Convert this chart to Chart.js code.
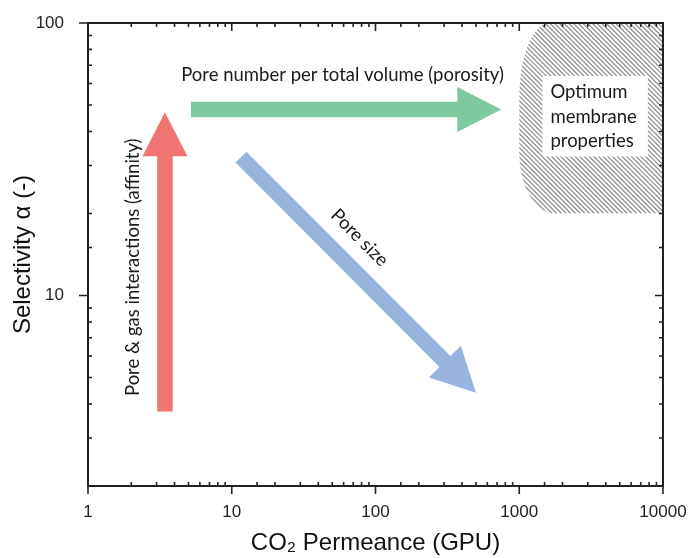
<!DOCTYPE html>
<html>
<head>
<meta charset="utf-8">
<script src="https://cdn.jsdelivr.net/npm/chart.js@4.4.1/dist/chart.umd.min.js"></script>
<style>
  html, body { margin: 0; padding: 0; background: #fff; }
</style>
</head>
<body>
<canvas id="chart" width="693" height="558"></canvas>
<script>
// log-log axes
const xRange = [1, 10000];
const yRange = [2, 100];
const xTickLabels = ['1', '10', '100', '1000', '10000'];
const yTickLabels = ['10', '100'];

// arrows, start -> tip, in data units (CO2 permeance, selectivity)
const arrowLabels = ['Pore & gas interactions (affinity)', 'Pore number per total volume (porosity)', 'Pore size'];
const arrowStartX = [3.43, 5.2, 11.6];
const arrowStartY = [3.75, 48.2, 32.2];
const arrowTipX = [3.43, 750, 500];
const arrowTipY = [47, 48.2, 4.4];

// optimum region (hatched)
const optimumX = [1000, 10000];
const optimumY = [20, 100];
const optimumText = ['Optimum', 'membrane', 'properties'];

// where the arrow captions sit (data units) and how they turn
const captions = [
  { x: 2.05, y: 12.7, rotate: -Math.PI / 2 },
  { x: 59, y: 64.2, rotate: 0 },
  { x: 77.4, y: 16.3, rotate: 'arrow' }
];
const arrowColors = ['#f07474', '#7fc9a0', '#97b4de'];
const arrowStyle = { shaft: 15.5, headWidth: 45, headLength: 44 };
const noteFont = '18.5px Lato, "Open Sans", sans-serif';
const axisColor = '#222';

function isDecade(v) {
  const l = Math.log10(v);
  return Math.abs(l - Math.round(l)) < 1e-9;
}

function drawArrow(ctx, x0, y0, x1, y1, color) {
  const dx = x1 - x0, dy = y1 - y0;
  const len = Math.hypot(dx, dy);
  const ux = dx / len, uy = dy / len;
  const nx = -uy, ny = ux;
  const bx = x1 - ux * arrowStyle.headLength, by = y1 - uy * arrowStyle.headLength;
  const s = arrowStyle.shaft / 2, h = arrowStyle.headWidth / 2;
  ctx.beginPath();
  ctx.moveTo(x0 + nx * s, y0 + ny * s);
  ctx.lineTo(bx + nx * s, by + ny * s);
  ctx.lineTo(bx + nx * h, by + ny * h);
  ctx.lineTo(x1, y1);
  ctx.lineTo(bx - nx * h, by - ny * h);
  ctx.lineTo(bx - nx * s, by - ny * s);
  ctx.lineTo(x0 - nx * s, y0 - ny * s);
  ctx.closePath();
  ctx.fillStyle = color;
  ctx.fill();
}

const sketch = {
  id: 'sketch',
  beforeDatasetsDraw(chart) {
    const { ctx, scales: { x, y } } = chart;
    ctx.save();

    // hatched optimum region, rounded on its left side
    const L = x.getPixelForValue(optimumX[0]), R = x.getPixelForValue(optimumX[1]);
    const T = y.getPixelForValue(optimumY[1]), B = y.getPixelForValue(optimumY[0]);
    const rxT = 30, ryT = 75, rxB = 36, ryB = 60;
    ctx.beginPath();
    ctx.moveTo(R, T);
    ctx.lineTo(L + rxT, T);
    ctx.ellipse(L + rxT, T + ryT, rxT, ryT, 0, -Math.PI / 2, Math.PI, true);
    ctx.lineTo(L, B - ryB);
    ctx.ellipse(L + rxB, B - ryB, rxB, ryB, 0, Math.PI, Math.PI / 2, true);
    ctx.lineTo(R, B);
    ctx.closePath();
    ctx.save();
    ctx.clip();
    ctx.strokeStyle = '#8e8e8e';
    ctx.lineWidth = 1.2;
    ctx.beginPath();
    const hgt = B - T;
    for (let c = L - hgt; c < R + 5; c += 4.7) {
      ctx.moveTo(c, T);
      ctx.lineTo(c + hgt, B);
    }
    ctx.stroke();
    ctx.restore();

    // white label box in the middle of the region
    ctx.font = noteFont;
    const lineH = 24.5;
    const wMax = Math.max(...optimumText.map(t => ctx.measureText(t).width));
    const bw = wMax + 19, bh = optimumText.length * lineH + 7;
    const cx = (L + R) / 2 + 4, cy = (T + B) / 2 - 2;
    ctx.fillStyle = '#fff';
    ctx.fillRect(cx - bw / 2, cy - bh / 2, bw, bh);
    ctx.fillStyle = '#1a1a1a';
    ctx.textAlign = 'left';
    ctx.textBaseline = 'middle';
    optimumText.forEach((t, i) => {
      ctx.fillText(t, cx - bw / 2 + 8, cy - bh / 2 + 4 + lineH * (i + 0.5));
    });

    // arrows
    const px = [];
    arrowLabels.forEach((lab, i) => {
      const x0 = x.getPixelForValue(arrowStartX[i]), y0 = y.getPixelForValue(arrowStartY[i]);
      const x1 = x.getPixelForValue(arrowTipX[i]), y1 = y.getPixelForValue(arrowTipY[i]);
      px.push([x0, y0, x1, y1]);
      drawArrow(ctx, x0, y0, x1, y1, arrowColors[i]);
    });

    // captions
    ctx.fillStyle = '#1a1a1a';
    ctx.textAlign = 'center';
    ctx.textBaseline = 'middle';
    ctx.font = noteFont;
    captions.forEach((c, i) => {
      const p = px[i];
      const ang = c.rotate === 'arrow' ? Math.atan2(p[3] - p[1], p[2] - p[0]) : c.rotate;
      ctx.save();
      ctx.translate(x.getPixelForValue(c.x), y.getPixelForValue(c.y));
      ctx.rotate(ang);
      ctx.fillText(arrowLabels[i], 0, 0);
      ctx.restore();
    });
    ctx.restore();
  },
  afterDraw(chart) {
    const { ctx, chartArea: a, scales: { x, y } } = chart;
    ctx.save();
    ctx.strokeStyle = axisColor;
    ctx.lineWidth = 2;
    ctx.strokeRect(a.left, a.top, a.right - a.left, a.bottom - a.top);
    ctx.lineWidth = 1.6;
    ctx.beginPath();
    x.ticks.forEach(t => {
      const p = x.getPixelForValue(t.value);
      if (isDecade(t.value)) {
        ctx.moveTo(p, a.bottom); ctx.lineTo(p, a.bottom + 8);
        ctx.moveTo(p, a.top); ctx.lineTo(p, a.top + 8);
      } else {
        ctx.moveTo(p, a.bottom); ctx.lineTo(p, a.bottom - 4);
        ctx.moveTo(p, a.top); ctx.lineTo(p, a.top + 4);
      }
    });
    y.ticks.forEach(t => {
      const p = y.getPixelForValue(t.value);
      if (isDecade(t.value)) {
        ctx.moveTo(a.left, p); ctx.lineTo(a.left - 9, p);
        ctx.moveTo(a.right, p); ctx.lineTo(a.right - 8, p);
      } else {
        ctx.moveTo(a.left, p); ctx.lineTo(a.left + 4, p);
        ctx.moveTo(a.right, p); ctx.lineTo(a.right - 4, p);
      }
    });
    ctx.stroke();
    ctx.restore();
  }
};

const tickFont = { family: '"Liberation Sans", Arial, sans-serif', size: 17 };
const titleFont = { family: '"Liberation Sans", Arial, sans-serif', size: 24 };

// pin the plot box: axes get fixed sizes and no label overhang
function pinBox(size, key) {
  return s => {
    s[key] = size;
    s.paddingLeft = 0; s.paddingRight = 0; s.paddingTop = 0; s.paddingBottom = 0;
  };
}

new Chart(document.getElementById('chart'), {
  type: 'scatter',
  data: { datasets: [] },
  options: {
    responsive: false,
    animation: false,
    devicePixelRatio: 1,
    layout: { padding: { left: 0, top: 23, right: 30, bottom: 0 } },
    plugins: { legend: { display: false }, tooltip: { enabled: false } },
    scales: {
      x: {
        type: 'logarithmic',
        min: xRange[0],
        max: xRange[1],
        grid: { display: false },
        border: { display: false },
        ticks: {
          color: '#222',
          font: tickFont,
          padding: 8,
          autoSkip: false,
          maxRotation: 0,
          callback: v => xTickLabels.includes(String(v)) ? String(v) : ''
        },
        title: { display: true, text: 'CO₂ Permeance (GPU)', color: '#111', font: titleFont, padding: { top: 0, bottom: 0 } },
        afterFit: pinBox(72, 'height')
      },
      y: {
        type: 'logarithmic',
        min: yRange[0],
        max: yRange[1],
        grid: { display: false },
        border: { display: false },
        ticks: {
          color: '#222',
          font: tickFont,
          padding: 16,
          autoSkip: false,
          callback: v => yTickLabels.includes(String(v)) ? String(v) : ''
        },
        title: { display: true, text: 'Selectivity α (-)', color: '#111', font: titleFont, padding: { top: 9, bottom: 0 } },
        afterFit: pinBox(88, 'width')
      }
    }
  },
  plugins: [sketch]
});
</script>
</body>
</html>
